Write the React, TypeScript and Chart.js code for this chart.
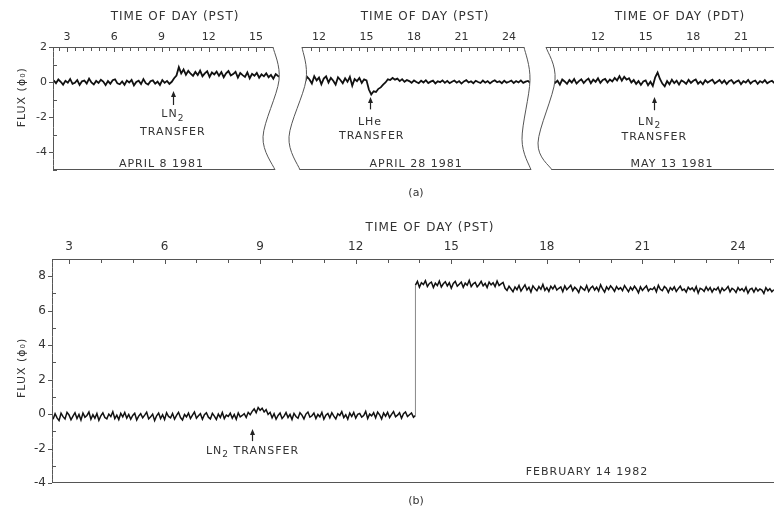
import React, { useEffect, useRef } from "react";
import { Chart, registerables } from "chart.js";
Chart.register(...registerables);

const W = 774;
const H = 509;
const FONT = '"DejaVu Sans", sans-serif';
const INK = "#333";
const LINE = "#555";

// ---------------- DATA ----------------
// (a) April 8 1981 — time of day (PST), sampled every 0.15 h
const a1Start = 2.15;
const a1Step = 0.15;
const a1Flux = [
  0.1, -0.06, 0.15, 0.02, -0.14, 0.08, -0.03, 0.18, -0.1, -0.04,
  0.12, -0.16, 0.05, 0.09, -0.08, 0.2, -0.02, -0.13, 0.07, -0.05,
  0.14, 0.03, -0.17, 0.06, -0.09, 0.11, 0.16, -0.07, -0.12, 0.04,
  -0.15, 0.09, -0.02, 0.13, -0.18, 0.01, 0.08, -0.11, 0.17, -0.06,
  -0.14, 0.05, 0.1, -0.09, 0.03, -0.16, 0.12, -0.04, 0.07, -0.1,
  0.02, 0.22, 0.38, 0.85, 0.5, 0.72, 0.42, 0.64, 0.48, 0.36,
  0.58, 0.4, 0.66, 0.34, 0.5, 0.62, 0.3, 0.55, 0.44, 0.6,
  0.36, 0.57, 0.28, 0.5, 0.63, 0.38, 0.46, 0.59, 0.26, 0.52,
  0.4, 0.3, 0.55, 0.22, 0.47, 0.36, 0.53, 0.25, 0.44, 0.33,
  0.5, 0.28, 0.41, 0.2, 0.46, 0.35, 0.27,
];
const a1Hours = [3, 6, 9, 12, 15];

// (a) April 28 1981 — time of day (PST)
const a2Start = 10.2;
const a2Step = 0.15;
const a2Flux = [
  0.32, 0.05, 0.4, -0.06, 0.22, 0.36, 0.0, 0.3, 0.15, -0.08,
  0.34, 0.1, 0.26, -0.12, 0.2, 0.33, -0.02, 0.24, 0.08, -0.14,
  0.28, 0.12, -0.06, 0.22, 0.02, 0.3, -0.2, 0.18, 0.06, 0.24,
  -0.04, 0.16, 0.1, -0.42, -0.7, -0.52, -0.56, -0.38, -0.3, -0.14,
  -0.02, 0.16, 0.12, 0.24, 0.14, 0.2, 0.06, 0.17, 0.02, 0.12,
  0.06, -0.04, 0.1, 0.01, -0.06, 0.08, -0.02, 0.11, -0.05, 0.03,
  0.09, -0.07, 0.05, 0.0, 0.1, -0.04, 0.07, -0.06, 0.02, 0.09,
  -0.03, 0.06, -0.08, 0.04, 0.11, -0.02, 0.05, -0.06, 0.08, 0.01,
  -0.05, 0.09, -0.03, 0.06, -0.07, 0.04, 0.1, -0.01, 0.05, -0.06,
  0.08, -0.03, 0.02, 0.09, -0.05, 0.06, -0.02, 0.1, -0.04, 0.03,
  0.07, -0.05, 0.04,
];
const a2Hours = [12, 15, 18, 21, 24];

// (a) May 13 1981 — time of day (PDT)
const a3Start = 8.25;
const a3Step = 0.15;
const a3Flux = [
  0.12, -0.06, 0.18, 0.02, -0.12, 0.1, 0.2, -0.04, 0.08, -0.14,
  0.15, 0.04, -0.1, 0.12, -0.02, 0.18, -0.08, 0.06, 0.16, -0.05,
  0.1, 0.2, -0.06, 0.14, 0.02, 0.22, -0.04, 0.12, 0.18, -0.02,
  0.15, 0.04, 0.24, 0.1, 0.34, 0.08, 0.3, 0.14, 0.22, -0.02,
  0.12, -0.1, 0.06, -0.16, 0.04, 0.1, -0.18, 0.02, -0.22, 0.28,
  0.55, 0.18, -0.08, -0.24, 0.06, -0.12, 0.14, -0.06, 0.08, -0.14,
  0.1, 0.02, -0.1, 0.13, -0.04, 0.08, 0.15, -0.09, 0.04, -0.12,
  0.11, -0.03, 0.06, 0.14, -0.08, 0.02, 0.12, -0.06, 0.09, -0.11,
  0.05, 0.12, -0.07, 0.03, 0.1, -0.12, 0.06, -0.02, 0.13, -0.08,
  0.04, 0.09, -0.1, 0.06, -0.03, 0.11, -0.07, 0.02, 0.08, -0.05,
  0.06,
];
const a3Hours = [12, 15, 18, 21];

// (b) February 14 1982 — time of day (PST), sampled every 0.0625 h
const bStart = 2.5;
const bStep = 0.0625;
const bJumpTime = 13.875;
const bFluxBefore = [
  -0.3, 0.02, -0.22, -0.38, 0.05, -0.15, -0.28, 0.1, -0.05, -0.33,
  -0.12, 0.08, -0.26, -0.02, -0.35, 0.06, -0.18, -0.08, 0.12, -0.3,
  -0.04, -0.24, 0.03, -0.36, -0.1, 0.07, -0.2, -0.28, 0.0, -0.14,
  0.14, -0.26, -0.06, -0.32, 0.04, -0.16, 0.09, -0.24, -0.02, -0.3,
  -0.08, 0.05, -0.34, -0.12, 0.02, -0.22, -0.06, 0.11, -0.28, -0.16,
  0.0, -0.38, -0.1, 0.06, -0.26, -0.04, -0.32, 0.08, -0.14, -0.22,
  0.03, -0.3, -0.08, 0.1, -0.2, -0.34, -0.02, -0.16, 0.06, -0.26,
  -0.06, 0.12, -0.24, -0.1, 0.02, -0.3, -0.04, 0.08, -0.18, -0.28,
  0.04, -0.12, -0.32, 0.0, -0.2, 0.09, -0.26, -0.06, -0.14, 0.05,
  -0.24, -0.02, -0.3, 0.07, -0.16, -0.08, 0.02, -0.2, 0.1, -0.04,
  0.16, 0.3, 0.08, 0.38, 0.22, 0.34, 0.12, 0.26, -0.02, 0.1,
  -0.22, 0.02, -0.3, -0.08, 0.06, -0.26, -0.12, 0.09, -0.2, -0.02,
  -0.32, 0.04, -0.14, -0.24, 0.08, -0.06, -0.28, 0.0, 0.12, -0.18,
  -0.1, 0.06, -0.26, -0.02, -0.16, 0.1, -0.3, -0.06, 0.04, -0.22,
  0.08, -0.12, -0.28, 0.02, -0.08, 0.14, -0.2, -0.04, -0.3, 0.06,
  -0.14, 0.1, -0.24, -0.02, 0.04, -0.18, -0.08, 0.16, -0.26, 0.0,
  -0.1, 0.08, -0.22, 0.12, -0.04, -0.28, 0.06, -0.12, 0.1, -0.2,
  -0.02, 0.14, -0.16, -0.06, 0.08, -0.24, 0.02, 0.12, -0.14, -0.04,
  0.06, -0.18, -0.08,
];
const bFluxAfter = [
  7.48, 7.7, 7.36, 7.62, 7.52, 7.74, 7.4, 7.58, 7.66, 7.34,
  7.6, 7.46, 7.72, 7.38, 7.56, 7.68, 7.44, 7.62, 7.3, 7.58,
  7.7, 7.42, 7.54, 7.66, 7.36, 7.6, 7.48, 7.76, 7.4, 7.56,
  7.64, 7.38, 7.52, 7.7, 7.44, 7.58, 7.34, 7.66, 7.5, 7.62,
  7.4, 7.72, 7.46, 7.56, 7.64, 7.3, 7.18, 7.42, 7.26, 7.1,
  7.38, 7.22, 7.46, 7.14, 7.32, 7.5, 7.2, 7.36, 7.08, 7.44,
  7.28, 7.16, 7.4, 7.24, 7.52, 7.18, 7.34, 7.12, 7.42, 7.26,
  7.46, 7.2, 7.3, 7.38, 7.1, 7.44, 7.22, 7.34, 7.48, 7.16,
  7.36, 7.24, 7.06, 7.4, 7.28, 7.18, 7.46, 7.12, 7.32, 7.42,
  7.2, 7.36, 7.14, 7.5, 7.26, 7.08, 7.38, 7.22, 7.44, 7.3,
  7.12, 7.4, 7.24, 7.34, 7.16, 7.46, 7.28, 7.1, 7.36, 7.2,
  7.42, 7.26, 7.04, 7.38, 7.18, 7.32, 7.44, 7.14, 7.28, 7.22,
  7.36, 7.1, 7.48, 7.24, 7.16, 7.4, 7.3, 7.06, 7.34, 7.2,
  7.38, 7.12, 7.28, 7.42, 7.18, 7.26, 7.08, 7.36, 7.22, 7.32,
  7.14, 7.4, 7.02, 7.3, 7.24, 7.12, 7.38, 7.18, 7.34, 7.08,
  7.28, 7.2, 7.36, 7.04, 7.32, 7.16, 7.26, 7.4, 7.1, 7.3,
  7.22, 7.06, 7.34, 7.18, 7.28, 7.12, 7.36, 7.02, 7.24, 7.3,
  7.08, 7.32, 7.14, 7.26, 7.2, 7.0, 7.34, 7.16, 7.28, 7.1,
  7.22,
];
const bHours = [3, 6, 9, 12, 15, 18, 21, 24];

const aFluxTicks = [2, 0, -2, -4];
const bFluxTicks = [8, 6, 4, 2, 0, -2, -4];

// ---------------- PANELS ----------------
type Wave = [number, number][] | null;
interface Note {
  x: number;
  y: number;
  text: string;
  sub?: string;
  after?: string;
}
interface Arrow {
  x: number;
  tip: number;
  tail: number;
}
interface Panel {
  area: { l: number; t: number; r: number; b: number };
  xMin: number;
  xMax: number;
  yMin: number;
  yMax: number;
  xLabels: number[];
  yLabels: number[] | null;
  xMinor: number;
  leftWave: Wave;
  rightWave: Wave;
  drawLeft: boolean;
  drawRight: boolean;
  title: string;
  titleX: number;
  titleGap: number;
  labelY: number;
  fluxY: number | null;
  tickSize: number;
  lineWidth: number;
  points: { x: number; y: number }[];
  jumpIndex: number;
  arrows: Arrow[];
  notes: Note[];
}

const series = (start: number, step: number, vals: number[]) =>
  vals.map((y, i) => ({ x: start + i * step, y }));

const panels: Panel[] = [
  {
    area: { l: 53, t: 47, r: 279, b: 170 },
    xMin: 2.11, xMax: 16.46, yMin: -5, yMax: 2,
    xLabels: a1Hours, yLabels: aFluxTicks, xMinor: 0.5,
    leftWave: null,
    rightWave: [[-6, 0], [0, 0.27], [-16, 0.73], [-4, 1]],
    drawLeft: true, drawRight: true,
    title: "TIME OF DAY (PST)", titleX: 9.86, titleGap: 30, labelY: 37,
    fluxY: -0.86, tickSize: 11, lineWidth: 1.8,
    points: series(a1Start, a1Step, a1Flux), jumpIndex: -1,
    arrows: [{ x: 9.75, tip: -0.5, tail: -1.3 }],
    notes: [
      { x: 9.72, y: -1.83, text: "LN", sub: "2" },
      { x: 9.72, y: -2.84, text: "TRANSFER" },
      { x: 9.0, y: -4.65, text: "APRIL 8 1981" },
    ],
  },
  {
    area: { l: 289, t: 47, r: 531, b: 170 },
    xMin: 10.105, xMax: 25.39, yMin: -5, yMax: 2,
    xLabels: a2Hours, yLabels: null, xMinor: 0.5,
    leftWave: [[13, 0], [17, 0.27], [0, 0.73], [11, 1]],
    rightWave: [[-7, 0], [-1, 0.27], [-9, 0.75], [0, 1]],
    drawLeft: true, drawRight: true,
    title: "TIME OF DAY (PST)", titleX: 18.7, titleGap: 30, labelY: 37,
    fluxY: null, tickSize: 11, lineWidth: 1.8,
    points: series(a2Start, a2Step, a2Flux), jumpIndex: -1,
    arrows: [{ x: 15.25, tip: -0.85, tail: -1.55 }],
    notes: [
      { x: 15.22, y: -2.25, text: "LHe" },
      { x: 15.33, y: -3.09, text: "TRANSFER" },
      { x: 18.13, y: -4.65, text: "APRIL 28 1981" },
    ],
  },
  {
    area: { l: 538, t: 47, r: 774, b: 170 },
    xMin: 8.224, xMax: 23.077, yMin: -5, yMax: 2,
    xLabels: a3Hours, yLabels: null, xMinor: 0.5,
    leftWave: [[8, 0], [17, 0.27], [0, 0.78], [14, 1]],
    rightWave: null,
    drawLeft: true, drawRight: false,
    title: "TIME OF DAY (PDT)", titleX: 17.16, titleGap: 30, labelY: 37,
    fluxY: null, tickSize: 11, lineWidth: 1.8,
    points: series(a3Start, a3Step, a3Flux), jumpIndex: -1,
    arrows: [{ x: 15.52, tip: -0.84, tail: -1.6 }],
    notes: [
      { x: 15.25, y: -2.27, text: "LN", sub: "2" },
      { x: 15.55, y: -3.12, text: "TRANSFER" },
      { x: 16.66, y: -4.65, text: "MAY 13 1981" },
    ],
  },
  {
    area: { l: 52, t: 259, r: 774, b: 483 },
    xMin: 2.466, xMax: 25.13, yMin: -4, yMax: 9,
    xLabels: bHours, yLabels: bFluxTicks, xMinor: 1,
    leftWave: null, rightWave: null,
    drawLeft: true, drawRight: false,
    title: "TIME OF DAY (PST)", titleX: 14.33, titleGap: 31, labelY: 247,
    fluxY: 2.68, tickSize: 12, lineWidth: 1.5,
    points: [
      ...series(bStart, bStep, bFluxBefore),
      ...series(bJumpTime, bStep, bFluxAfter),
    ],
    jumpIndex: bFluxBefore.length - 1,
    arrows: [{ x: 8.75, tip: -0.87, tail: -1.57 }],
    notes: [
      { x: 8.76, y: -2.14, text: "LN", sub: "2", after: " TRANSFER" },
      { x: 19.26, y: -3.38, text: "FEBRUARY 14 1982" },
    ],
  },
];

// ---------------- DRAW HELPERS ----------------
function edgePts(wave: Wave, x: number, t: number, b: number): [number, number][] {
  return wave
    ? wave.map(([dx, f]) => [x + dx, t + f * (b - t)] as [number, number])
    : [[x, t], [x, b]];
}

function spline(ctx: CanvasRenderingContext2D, pts: [number, number][], move: boolean) {
  const n = pts.length;
  if (move) ctx.moveTo(pts[0][0], pts[0][1]);
  else ctx.lineTo(pts[0][0], pts[0][1]);
  for (let i = 0; i < n - 1; i++) {
    const p0 = pts[Math.max(i - 1, 0)];
    const p1 = pts[i];
    const p2 = pts[i + 1];
    const p3 = pts[Math.min(i + 2, n - 1)];
    ctx.bezierCurveTo(
      p1[0] + (p2[0] - p0[0]) / 6, p1[1] + (p2[1] - p0[1]) / 6,
      p2[0] - (p3[0] - p1[0]) / 6, p2[1] - (p3[1] - p1[1]) / 6,
      p2[0], p2[1]
    );
  }
}

function setFont(ctx: CanvasRenderingContext2D, size: number) {
  ctx.font = `${size}px ${FONT}`;
  (ctx as any).letterSpacing = "1px";
}

function drawNote(ctx: CanvasRenderingContext2D, n: Note, cx: number, cy: number, size: number) {
  ctx.fillStyle = INK;
  ctx.textBaseline = "middle";
  ctx.textAlign = "left";
  setFont(ctx, size);
  const w1 = ctx.measureText(n.text).width;
  let w2 = 0;
  if (n.sub) {
    setFont(ctx, size - 2);
    w2 = ctx.measureText(n.sub).width;
  }
  setFont(ctx, size);
  const w3 = n.after ? ctx.measureText(n.after).width : 0;
  let x = cx - (w1 + w2 + w3) / 2;
  ctx.fillText(n.text, x, cy);
  x += w1;
  if (n.sub) {
    setFont(ctx, size - 2);
    ctx.fillText(n.sub, x, cy + 4);
    x += w2;
    setFont(ctx, size);
  }
  if (n.after) ctx.fillText(n.after, x, cy);
}

function makePlugin(p: Panel) {
  const edges = (chart: any) => {
    const ca = chart.chartArea;
    return {
      ca,
      L: edgePts(p.leftWave, ca.left, ca.top, ca.bottom),
      R: edgePts(p.rightWave, ca.right, ca.top, ca.bottom),
    };
  };
  return {
    id: "figure" + p.area.l + "_" + p.area.t,
    beforeDatasetsDraw(chart: any) {
      const ctx = chart.ctx as CanvasRenderingContext2D;
      const { L, R } = edges(chart);
      ctx.save();
      ctx.beginPath();
      spline(ctx, R, true);
      spline(ctx, L.slice().reverse(), false);
      ctx.closePath();
      ctx.clip();
    },
    afterDatasetsDraw(chart: any) {
      const ctx = chart.ctx as CanvasRenderingContext2D;
      ctx.restore();
      const { ca, L, R } = edges(chart);
      const xs = chart.scales.x;
      const ys = chart.scales.y;
      ctx.save();
      ctx.strokeStyle = LINE;
      ctx.lineWidth = 1;
      // frame
      ctx.beginPath();
      ctx.moveTo(L[0][0], ca.top + 0.5);
      ctx.lineTo(R[0][0], ca.top + 0.5);
      ctx.moveTo(L[L.length - 1][0], ca.bottom - 0.5);
      ctx.lineTo(R[R.length - 1][0], ca.bottom - 0.5);
      ctx.stroke();
      if (p.drawLeft) {
        ctx.beginPath();
        spline(ctx, p.leftWave ? L : L.map(([x, y]) => [x + 0.5, y] as [number, number]), true);
        ctx.stroke();
      }
      if (p.drawRight) {
        ctx.beginPath();
        spline(ctx, R, true);
        ctx.stroke();
      }
      // x ticks (inward)
      ctx.beginPath();
      const k0 = Math.ceil(p.xMin / p.xMinor);
      const k1 = Math.floor(p.xMax / p.xMinor);
      for (let k = k0; k <= k1; k++) {
        const v = k * p.xMinor;
        const px = Math.round(xs.getPixelForValue(v)) + 0.5;
        if (px < L[0][0] + 2 || px > R[0][0] - 2) continue;
        const len = p.xLabels.includes(v) ? 5 : 4;
        ctx.moveTo(px, ca.top);
        ctx.lineTo(px, ca.top + len);
      }
      ctx.stroke();
      // y ticks
      if (p.yLabels) {
        ctx.beginPath();
        for (let v = Math.ceil(p.yMin); v <= Math.floor(p.yMax); v++) {
          const py = Math.round(ys.getPixelForValue(v)) + 0.5;
          if (p.yLabels.includes(v)) {
            ctx.moveTo(ca.left - 4, py);
            ctx.lineTo(ca.left, py);
          } else {
            ctx.moveTo(ca.left, py);
            ctx.lineTo(ca.left + 4, py);
          }
        }
        ctx.stroke();
      }
      // arrows
      ctx.strokeStyle = "#222";
      ctx.fillStyle = "#222";
      ctx.lineWidth = 1.2;
      for (const a of p.arrows) {
        const px = Math.round(xs.getPixelForValue(a.x)) + 0.5;
        const y1 = ys.getPixelForValue(a.tip);
        const y2 = ys.getPixelForValue(a.tail);
        ctx.beginPath();
        ctx.moveTo(px, y1 + 4);
        ctx.lineTo(px, y2);
        ctx.stroke();
        ctx.beginPath();
        ctx.moveTo(px, y1);
        ctx.lineTo(px - 2.5, y1 + 6);
        ctx.lineTo(px + 2.5, y1 + 6);
        ctx.closePath();
        ctx.fill();
      }
      // notes
      for (const n of p.notes) {
        drawNote(ctx, n, xs.getPixelForValue(n.x), ys.getPixelForValue(n.y), 11);
      }
      // title
      ctx.fillStyle = INK;
      setFont(ctx, 12);
      ctx.textAlign = "center";
      ctx.textBaseline = "middle";
      ctx.fillText(p.title, xs.getPixelForValue(p.titleX), ca.top - p.titleGap);
      // flux label
      if (p.fluxY !== null) {
        ctx.save();
        ctx.translate(22, ys.getPixelForValue(p.fluxY));
        ctx.rotate(-Math.PI / 2);
        setFont(ctx, 11);
        ctx.textAlign = "center";
        ctx.textBaseline = "middle";
        ctx.fillText("FLUX (\u03d5\u2080)", 0, 0);
        ctx.restore();
      }
      ctx.restore();
    },
  };
}

function makeConfig(p: Panel): any {
  const a = p.area;
  const hasY = !!p.yLabels;
  const lineH = p.tickSize * 1.2;
  return {
    type: "line",
    data: {
      datasets: [
        {
          data: p.points,
          borderColor: "#111",
          borderWidth: p.lineWidth,
          pointRadius: 0,
          tension: 0,
          fill: false,
          segment: {
            borderColor: (c: any) => (c.p0DataIndex === p.jumpIndex ? "#888" : undefined),
            borderWidth: (c: any) => (c.p0DataIndex === p.jumpIndex ? 1 : undefined),
          },
        },
      ],
    },
    options: {
      animation: false,
      responsive: false,
      events: [],
      layout: {
        autoPadding: false,
        padding: { left: 0, top: 0, right: W - a.r, bottom: H - a.b },
      },
      plugins: {
        legend: { display: false },
        tooltip: { enabled: false },
        title: { display: false },
      },
      scales: {
        x: {
          type: "linear",
          position: "top",
          min: p.xMin,
          max: p.xMax,
          grid: { display: false, drawTicks: false },
          border: { display: false },
          afterBuildTicks: (s: any) => {
            s.ticks = p.xLabels.map((v) => ({ value: v }));
          },
          afterFit: (s: any) => {
            s.height = a.t;
          },
          ticks: {
            autoSkip: false,
            maxRotation: 0,
            padding: Math.max(0, a.t - p.labelY - lineH / 2),
            color: INK,
            font: { family: FONT, size: p.tickSize },
            callback: (v: any) => String(v),
          },
        },
        y: {
          type: "linear",
          display: true,
          min: p.yMin,
          max: p.yMax,
          grid: { display: false, drawTicks: false },
          border: { display: false },
          afterBuildTicks: (s: any) => {
            if (p.yLabels) s.ticks = p.yLabels.map((v) => ({ value: v }));
          },
          afterFit: (s: any) => {
            s.width = a.l;
          },
          ticks: {
            display: hasY,
            autoSkip: false,
            padding: 6,
            color: INK,
            font: { family: FONT, size: p.tickSize },
            callback: (v: any) => String(v),
          },
        },
      },
    },
    plugins: [makePlugin(p)],
  };
}

function PanelCanvas({ panel }: { panel: Panel }) {
  const ref = useRef<HTMLCanvasElement | null>(null);
  useEffect(() => {
    if (!ref.current) return;
    const chart = new Chart(ref.current, makeConfig(panel));
    return () => chart.destroy();
  }, [panel]);
  return (
    <canvas
      ref={ref}
      width={W}
      height={H}
      style={{ position: "absolute", left: 0, top: 0, width: W, height: H }}
    />
  );
}

const captionStyle: React.CSSProperties = {
  position: "absolute",
  transform: "translate(-50%, -50%)",
  font: `11px ${FONT}`,
  color: INK,
  whiteSpace: "nowrap",
};

export default function App() {
  return (
    <div
      style={{
        position: "fixed",
        left: 0,
        top: 0,
        width: W,
        height: H,
        background: "#fff",
        overflow: "hidden",
      }}
    >
      {panels.map((p, i) => (
        <PanelCanvas key={i} panel={p} />
      ))}
      <div style={{ ...captionStyle, left: 416, top: 192 }}>(a)</div>
      <div style={{ ...captionStyle, left: 416, top: 500 }}>(b)</div>
    </div>
  );
}
